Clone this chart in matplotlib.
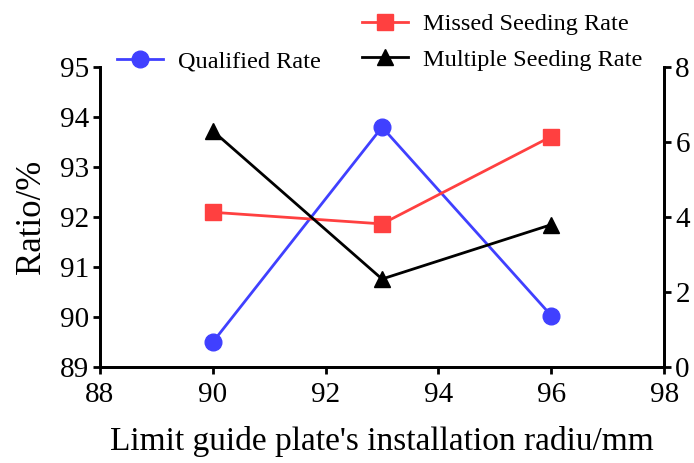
import matplotlib
matplotlib.use("Agg")
import matplotlib.pyplot as plt

plt.rcParams['font.family'] = ['Liberation Serif', 'DejaVu Serif']

radius = [90, 93, 96]
qualified = [89.5, 93.8, 90.03]
missed = [4.13, 3.82, 6.15]
multiple = [6.3, 2.35, 3.8]

BLUE = '#4040ff'
RED = '#ff4040'

fig = plt.figure(figsize=(6.94, 4.63), dpi=100)
ax = fig.add_axes([0.144, 0.207, 0.813, 0.648])
ax2 = ax.twinx()

l1, = ax.plot(radius, qualified, color=BLUE, marker='o', markersize=12, lw=2,
              label='Qualified Rate')
l2, = ax2.plot(radius, missed, color=RED, marker='s', markersize=12, lw=2,
               label='Missed Seeding Rate')
l3, = ax2.plot(radius, multiple, color='black', marker='^', markersize=12, lw=2,
               label='Multiple Seeding Rate')

ax.set_xlim(88, 98)
ax.set_ylim(89, 95)
ax2.set_ylim(0, 8)
ax.set_xticks([88, 90, 92, 94, 96, 98])
ax.set_yticks(range(89, 96))
ax2.set_yticks([0, 2, 4, 6, 8])

for a in (ax, ax2):
    a.spines['top'].set_visible(False)
    for s in a.spines.values():
        s.set_linewidth(2)
    a.tick_params(width=2, length=5, labelsize=21, direction='out', pad=3)
ax.tick_params(axis='x', pad=6)

ax.set_xlabel("Limit guide plate's installation radiu/mm", fontsize=24, labelpad=13)
ax.set_ylabel("Ratio/%", fontsize=25, labelpad=8)

fig.legend(handles=[l1], loc='center left', bbox_to_anchor=(0.137, 0.867),
           frameon=False, fontsize=17.5, handlelength=1.9, handletextpad=0.6)
fig.legend(handles=[l2, l3], loc='center left', bbox_to_anchor=(0.49, 0.909),
           frameon=False, fontsize=17.5, handlelength=1.9, handletextpad=0.6,
           labelspacing=0.55)

fig.savefig("out.png", dpi=100)
